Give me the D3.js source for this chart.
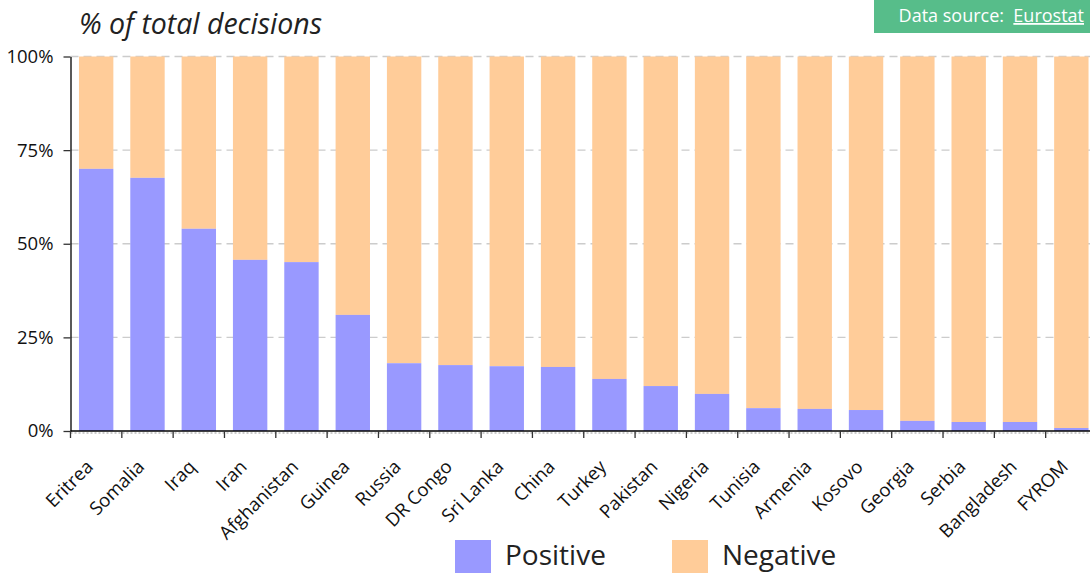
<!DOCTYPE html>
<html><head><meta charset="utf-8">
<script src="https://cdn.jsdelivr.net/npm/d3@7"></script>
<style>body{margin:0;background:#fff;overflow:hidden}svg{display:block}</style>
</head><body>
<svg id="c" width="1090" height="573"></svg>
<script>
const countries = ["Eritrea","Somalia","Iraq","Iran","Afghanistan","Guinea","Russia","DR Congo","Sri Lanka","China","Turkey","Pakistan","Nigeria","Tunisia","Armenia","Kosovo","Georgia","Serbia","Bangladesh","FYROM"];
const positive = [70.0,67.6,54.0,45.7,45.1,31.0,18.1,17.6,17.3,17.1,13.9,12.0,9.9,6.1,5.9,5.6,2.7,2.4,2.4,0.8];
const negative = positive.map(p => 100 - p);
const yTicks = [0,25,50,75,100];
const seriesNames = ["Positive","Negative"];
const colors = ["#9999ff","#ffcc99"];

const font = "'Open Sans','Noto Sans',sans-serif";
const svg = d3.select("#c");
const x = d3.scaleBand().domain(countries).range([70.5,1097]).paddingInner(0.33).paddingOuter(0.165);
const y = d3.scaleLinear().domain([0,100]).range([431,56.5]);

// grid
svg.append("g").selectAll("line").data(yTicks.filter(d=>d>0)).join("line")
  .attr("x1",70.5).attr("x2",1090).attr("y1",d=>y(d)).attr("y2",d=>y(d))
  .attr("stroke","#ccc").attr("stroke-width",1.3).attr("stroke-dasharray","8,5");

const data = countries.map((c,i)=>({c, p:positive[i], n:negative[i]}));
const g = svg.append("g");
g.selectAll("rect.neg").data(data).join("rect").attr("class","neg")
  .attr("x",d=>x(d.c)).attr("width",x.bandwidth())
  .attr("y",d=>y(d.p+d.n)).attr("height",d=>y(d.p)-y(d.p+d.n)).attr("fill",colors[1]);
g.selectAll("rect.pos").data(data).join("rect").attr("class","pos")
  .attr("x",d=>x(d.c)).attr("width",x.bandwidth())
  .attr("y",d=>y(d.p)).attr("height",d=>y(0)-y(d.p)).attr("fill",colors[0]);

// dotted baseline
svg.append("line").attr("x1",70.5).attr("x2",1090).attr("y1",433).attr("y2",433)
  .attr("stroke","#999").attr("stroke-dasharray","2,2");

// y axis
const ya = svg.append("g").attr("transform","translate(70.5,0)")
  .call(d3.axisLeft(y).tickValues(yTicks).tickFormat(d=>d+"%").tickSize(7).tickSizeOuter(0));
ya.select(".domain").attr("stroke","#000").attr("stroke-width",1.3);
ya.selectAll(".tick line").attr("stroke","#333").attr("stroke-width",1.3);
ya.selectAll("text").attr("font-family",font).attr("font-size",18.5).attr("fill","#111").attr("dx",-7);

// x axis
const xa = svg.append("g").attr("transform","translate(0,431)");
xa.append("line").attr("x1",70.5).attr("x2",1090).attr("stroke","#000").attr("stroke-width",1.3);
const boundaries = countries.map(c => x(c) - x.paddingInner()*x.bandwidth()/(1-x.paddingInner())/2);
xa.selectAll("line.t").data(boundaries).join("line").attr("class","t")
  .attr("x1",d=>d).attr("x2",d=>d).attr("y1",0).attr("y2",7).attr("stroke","#333").attr("stroke-width",1.3);
xa.selectAll("text").data(countries).join("text")
  .attr("transform",d=>`translate(${x(d)+x.bandwidth()/2-2},${37}) rotate(-45)`)
  .attr("text-anchor","end").attr("font-family",font).attr("font-size",18.5).attr("fill","#111")
  .text(d=>d);

// title
svg.append("text").attr("x",79).attr("y",34).attr("font-family",font).attr("font-style","italic")
  .attr("font-size",28.5).attr("fill","#222").text("% of total decisions");

// data source box
svg.append("rect").attr("x",874).attr("y",0).attr("width",216).attr("height",33).attr("fill","#57bd8a");
const ds = svg.append("text").attr("x",1084).attr("y",22).attr("text-anchor","end")
  .attr("font-family",font).attr("font-size",18).attr("fill","#fff");
ds.append("tspan").text("Data source:\u00a0 ");
ds.append("tspan").attr("text-decoration","underline").text("Eurostat");

// legend
const lx = [455,672];
const lg = svg.append("g");
seriesNames.forEach((s,i)=>{
  lg.append("rect").attr("x",lx[i]).attr("y",540).attr("width",36).attr("height",36).attr("fill",colors[i]);
  lg.append("text").attr("x",lx[i]+50).attr("y",565).attr("font-family",font).attr("font-size",28)
    .attr("fill","#222").text(s);
});
</script>
</body></html>
